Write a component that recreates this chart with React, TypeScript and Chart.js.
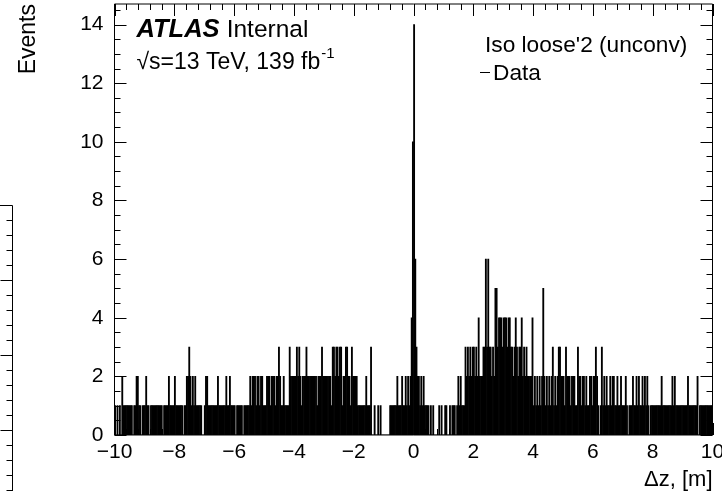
import React, { useEffect, useRef } from "react";
import { Chart, registerables } from "chart.js";

Chart.register(...registerables);

// ---- data -------------------------------------------------------------
const X_MIN = -10;
const X_MAX = 10;
const BIN_WIDTH = 0.04;
const Y_MAX = 14.7;
const X_TICKS = [-10, -8, -6, -4, -2, 0, 2, 4, 6, 8, 10];
const Y_TICKS = [0, 2, 4, 6, 8, 10, 12, 14];

// bin contents, 50 bins per 2 m slice
const COUNTS_M10_M8 = [
  1, 0, 1, 0, 1, 0, 2, 1, 1, 1, 1, 1, 1, 1, 1, 0, 1, 1, 2, 2, 1, 1, 0, 1, 1,
  1, 2, 1, 1, 0, 1, 1, 1, 1, 1, 1, 1, 1, 1, 1, 0, 1, 1, 1, 1, 2, 1, 1, 1, 1,
];
const COUNTS_M8_M6 = [
  2, 1, 1, 1, 1, 1, 1, 0, 1, 1, 2, 2, 3, 2, 1, 2, 1, 2, 1, 1, 1, 1, 1, 0, 0,
  1, 2, 2, 1, 1, 1, 1, 1, 1, 1, 1, 2, 1, 1, 1, 1, 1, 1, 2, 1, 1, 2, 1, 1, 1,
];
const COUNTS_M6_M4 = [
  1, 0, 1, 1, 1, 1, 1, 0, 1, 1, 1, 1, 1, 2, 1, 2, 2, 2, 1, 2, 2, 1, 2, 2, 1,
  1, 1, 2, 2, 2, 1, 2, 2, 2, 1, 2, 2, 3, 2, 1, 1, 2, 1, 1, 1, 1, 3, 2, 2, 2,
];
const COUNTS_M4_M2 = [
  2, 2, 3, 2, 3, 2, 1, 2, 2, 2, 3, 2, 2, 2, 2, 2, 2, 2, 2, 1, 2, 2, 2, 3, 2,
  2, 2, 2, 2, 2, 2, 1, 3, 3, 2, 3, 3, 2, 3, 3, 1, 2, 2, 3, 3, 2, 2, 1, 3, 2,
];
const COUNTS_M2_0 = [
  2, 2, 2, 1, 1, 1, 1, 1, 1, 1, 2, 1, 1, 1, 3, 0, 0, 1, 0, 0, 1, 0, 1, 0, 0,
  0, 0, 0, 0, 0, 1, 1, 1, 1, 1, 1, 2, 1, 1, 1, 2, 1, 1, 2, 1, 2, 1, 2, 4, 10,
];
const COUNTS_0_2 = [
  14, 6, 3, 2, 2, 1, 2, 1, 2, 1, 1, 1, 1, 0, 1, 0, 1, 0, 0, 0, 0, 1, 0, 1, 0,
  0, 1, 1, 0, 0, 1, 0, 1, 1, 1, 0, 1, 2, 1, 2, 1, 1, 1, 3, 2, 3, 2, 3, 2, 3,
];
const COUNTS_2_4 = [
  3, 2, 3, 2, 4, 2, 2, 2, 3, 3, 6, 3, 6, 3, 3, 2, 3, 2, 5, 5, 3, 4, 4, 4, 3,
  4, 4, 4, 3, 4, 4, 3, 3, 2, 3, 4, 3, 2, 3, 3, 4, 2, 3, 2, 3, 2, 2, 2, 2, 4,
];
const COUNTS_4_6 = [
  1, 2, 1, 2, 1, 2, 1, 2, 5, 2, 1, 2, 1, 2, 1, 2, 3, 1, 2, 1, 2, 3, 3, 2, 2,
  2, 1, 3, 2, 2, 2, 1, 2, 2, 2, 1, 1, 3, 2, 2, 1, 2, 2, 1, 2, 1, 1, 2, 2, 1,
];
const COUNTS_6_8 = [
  2, 2, 3, 2, 1, 0, 1, 3, 1, 2, 1, 2, 1, 1, 2, 1, 2, 2, 1, 1, 2, 1, 1, 2, 1,
  1, 1, 2, 1, 0, 1, 1, 1, 2, 1, 1, 2, 1, 2, 1, 1, 2, 1, 2, 1, 2, 1, 0, 1, 1,
];
const COUNTS_8_10 = [
  1, 1, 1, 1, 1, 1, 1, 2, 1, 1, 1, 1, 1, 1, 1, 1, 2, 1, 2, 1, 1, 1, 1, 1, 1,
  1, 1, 1, 1, 2, 1, 1, 1, 1, 1, 1, 1, 2, 0, 1, 1, 1, 1, 1, 1, 1, 1, 1, 1, 1,
];

const COUNTS = [
  ...COUNTS_M10_M8,
  ...COUNTS_M8_M6,
  ...COUNTS_M6_M4,
  ...COUNTS_M4_M2,
  ...COUNTS_M2_0,
  ...COUNTS_0_2,
  ...COUNTS_2_4,
  ...COUNTS_4_6,
  ...COUNTS_6_8,
  ...COUNTS_8_10,
];

// ---- style -------------------------------------------------------------
const FONT = '"Liberation Sans", Arial, Helvetica, sans-serif';
const X_MINOR_STEP = 0.4;
const Y_MINOR_STEP = 0.5;
const MAJOR_LEN = 12;
const MINOR_LEN = 6;

function histBars() {
  return COUNTS.map((c, i) => ({ x: X_MIN + (i + 0.5) * BIN_WIDTH, y: c }));
}

const fmt = (v: number) => (v < 0 ? "\u2212" + Math.abs(v) : String(v));

const framePlugin = {
  id: "frameTicks",
  afterDraw(chart: any) {
    const { ctx, chartArea: a, scales } = chart;
    const xs = scales.x;
    const ys = scales.y;
    ctx.save();
    ctx.strokeStyle = "#000";
    ctx.lineWidth = 1;
    ctx.beginPath();
    ctx.rect(a.left, a.top, a.right - a.left, a.bottom - a.top);
    const nx = Math.round((X_MAX - X_MIN) / X_MINOR_STEP);
    for (let k = 0; k <= nx; k++) {
      const px = Math.round(xs.getPixelForValue(X_MIN + k * X_MINOR_STEP)) + 0.5;
      const len = k % 5 === 0 ? MAJOR_LEN : MINOR_LEN;
      ctx.moveTo(px, a.bottom);
      ctx.lineTo(px, a.bottom - len);
      ctx.moveTo(px, a.top);
      ctx.lineTo(px, a.top + len);
    }
    for (let k = 0; k * Y_MINOR_STEP <= Y_MAX; k++) {
      const py = Math.round(ys.getPixelForValue(k * Y_MINOR_STEP)) + 0.5;
      const len = k % 4 === 0 ? MAJOR_LEN : MINOR_LEN;
      ctx.moveTo(a.left, py);
      ctx.lineTo(a.left + len, py);
      ctx.moveTo(a.right, py);
      ctx.lineTo(a.right - len, py);
    }
    ctx.stroke();

    // remnant of the neighbouring pad at the far left
    ctx.beginPath();
    ctx.moveTo(0, 205.5);
    ctx.lineTo(12.5, 205.5);
    ctx.lineTo(12.5, chart.height);
    for (let k = 1; 205.5 + k * 15 < chart.height; k++) {
      const py = 205.5 + k * 15;
      ctx.moveTo(12.5, py);
      ctx.lineTo(12.5 - (k % 5 === 0 ? 12 : 6), py);
    }
    ctx.stroke();

    // labels
    ctx.fillStyle = "#000";
    ctx.textBaseline = "alphabetic";
    ctx.textAlign = "left";
    const lx = a.left + 22;
    ctx.font = `italic bold 25.5px ${FONT}`;
    ctx.fillText("ATLAS", lx, 37);
    const w = ctx.measureText("ATLAS ").width;
    ctx.font = `24.5px ${FONT}`;
    ctx.fillText("Internal", lx + w, 37);
    ctx.font = `23px ${FONT}`;
    const line2 = "\u221As=13 TeV, 139 fb";
    ctx.fillText(line2, lx, 69);
    const w2 = ctx.measureText(line2).width;
    ctx.font = `15px ${FONT}`;
    ctx.fillText("-1", lx + w2 + 1, 58);

    ctx.font = `22.7px ${FONT}`;
    ctx.fillText("Iso loose'2 (unconv)", 485, 52);
    ctx.fillText("Data", 493, 80);
    ctx.beginPath();
    ctx.moveTo(480, 72.5);
    ctx.lineTo(490, 72.5);
    ctx.stroke();
    ctx.restore();
  },
};

export default function App() {
  const ref = useRef<HTMLCanvasElement>(null);
  useEffect(() => {
    if (!ref.current) return;
    const chart = new Chart(ref.current, {
      type: "bar",
      data: {
        datasets: [
          {
            label: "Data",
            data: histBars(),
            backgroundColor: "#000",
            borderWidth: 0,
            barPercentage: 1,
            categoryPercentage: 1,
          },
        ],
      },
      options: {
        animation: false,
        responsive: false,
        events: [],
        layout: { padding: { top: 4, right: 9.5, left: 0, bottom: 0 } },
        plugins: { legend: { display: false }, tooltip: { enabled: false } },
        scales: {
          x: {
            type: "linear",
            min: X_MIN,
            max: X_MAX,
            offset: false,
            grid: { display: false, drawTicks: false, offset: false },
            border: { display: false },
            afterBuildTicks: (s: any) => {
              s.ticks = X_TICKS.map((v) => ({ value: v }));
            },
            afterFit: (s: any) => {
              s.height = 56;
              s.paddingLeft = 0;
              s.paddingRight = 0;
            },
            ticks: {
              autoSkip: false,
              maxRotation: 0,
              padding: 5,
              color: "#000",
              font: { family: FONT, size: 21 },
              callback: (v: any) => fmt(Number(v)),
            },
            title: {
              display: true,
              text: "\u0394z, [m]",
              align: "end",
              color: "#000",
              font: { family: FONT, size: 22, lineHeight: 1 },
              padding: { top: 0, bottom: 0 },
            },
          },
          y: {
            type: "linear",
            min: 0,
            max: Y_MAX,
            grid: { display: false, drawTicks: false },
            border: { display: false },
            afterBuildTicks: (s: any) => {
              s.ticks = Y_TICKS.map((v) => ({ value: v }));
            },
            afterFit: (s: any) => {
              s.width = 114.5;
              s.paddingTop = 0;
              s.paddingBottom = 0;
            },
            ticks: {
              padding: 11,
              color: "#000",
              font: { family: FONT, size: 21 },
              callback: (v: any) => fmt(Number(v)),
            },
            title: {
              display: true,
              text: "Events",
              align: "end",
              color: "#000",
              font: { family: FONT, size: 23, lineHeight: 1 },
              padding: { top: 17, bottom: 0 },
            },
          },
        },
      },
      plugins: [framePlugin],
    });
    return () => chart.destroy();
  }, []);
  return (
    <div style={{ position: "absolute", left: 0, top: 0, width: 722, height: 491, background: "#fff" }}>
      <canvas ref={ref} width={722} height={491} style={{ display: "block" }} />
    </div>
  );
}
